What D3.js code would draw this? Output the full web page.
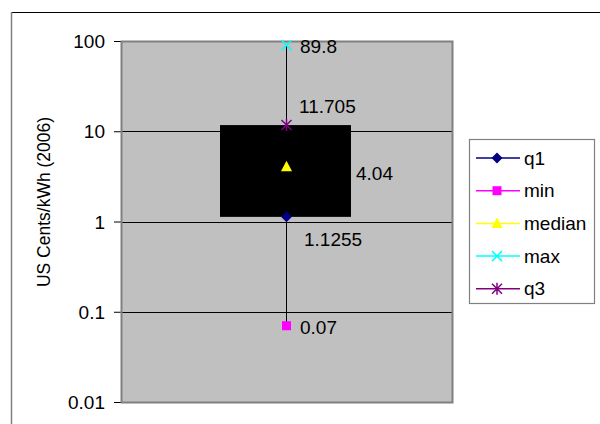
<!DOCTYPE html>
<html>
<head>
<meta charset="utf-8">
<script src="https://cdn.jsdelivr.net/npm/d3@7"></script>
<style>
  body { margin: 0; background: #fff; }
  svg text { font-family: Arial, "Liberation Sans", sans-serif; fill: #000; }
</style>
</head>
<body>
<div id="chart"></div>
<script>
// series shown in the chart (legend order)
const seriesNames = ['q1', 'min', 'median', 'max', 'q3'];
const seriesValues = [1.1255, 0.07, 4.04, 89.8, 11.705];
const seriesLabels = ['1.1255', '0.07', '4.04', '89.8', '11.705'];
const tickValues = [0.01, 0.1, 1, 10, 100];
const tickLabels = ['0.01', '0.1', '1', '10', '100'];
const yTitle = 'US Cents/kWh (2006)';

(function () {
    const W = 600, H = 424;
    const FS = 19;
    const plot = { x0: 121, x1: 452, y0: 41, y1: 402 };
    const colors = { q1: '#000080', min: '#ff00ff', median: '#ffff00', max: '#00ffff', q3: '#800080' };
    // label offsets from the marker, dx/dy in px
    const labelPos = { q1: [18, 22], min: [14, 1.5], median: [70, 7], max: [14, 1], q3: [13, -19] };

    const svg = d3.select('#chart').append('svg').attr('width', W).attr('height', H);

    // outer chart frame
    svg.append('line').attr('x1', 11).attr('x2', W).attr('y1', 12.5).attr('y2', 12.5)
        .attr('stroke', '#000').attr('stroke-width', 1);
    svg.append('line').attr('x1', 11.5).attr('x2', 11.5).attr('y1', 12).attr('y2', H)
        .attr('stroke', '#808080').attr('stroke-width', 1.5);

    const y = d3.scaleLog().domain([0.01, 100]).range([plot.y1, plot.y0]);
    const cx = 286;
    const byName = {};
    seriesNames.forEach(function (n, i) { byName[n] = seriesValues[i]; });

    svg.append('rect').attr('x', plot.x0).attr('y', plot.y0)
        .attr('width', plot.x1 - plot.x0).attr('height', plot.y1 - plot.y0)
        .attr('fill', '#c0c0c0');

    // gridlines
    svg.append('g').selectAll('line').data(tickValues.slice(1, -1)).enter().append('line')
        .attr('x1', plot.x0).attr('x2', plot.x1)
        .attr('y1', function (d) { return Math.round(y(d)) + 0.5; })
        .attr('y2', function (d) { return Math.round(y(d)) + 0.5; })
        .attr('stroke', '#000').attr('stroke-width', 1);

    // axis
    const axis = d3.axisLeft(y).tickValues(tickValues)
        .tickFormat(function (d, i) { return tickLabels[i]; })
        .tickSize(7).tickPadding(9);
    const gAxis = svg.append('g').attr('transform', 'translate(' + plot.x0 + ',0)').call(axis);
    gAxis.attr('font-size', FS).attr('font-family', null);
    gAxis.select('.domain').remove();
    gAxis.selectAll('.tick line').attr('stroke', '#000');
    gAxis.selectAll('.tick text').attr('dy', '0.35em');

    // plot border
    svg.append('rect').attr('x', plot.x0 + 0.5).attr('y', plot.y0 + 0.5)
        .attr('width', plot.x1 - plot.x0).attr('height', plot.y1 - plot.y0)
        .attr('fill', 'none').attr('stroke', '#808080').attr('stroke-width', 2);

    // box q1..q3
    svg.append('rect').attr('x', cx - 66).attr('width', 131)
        .attr('y', y(byName.q3)).attr('height', y(byName.q1) - y(byName.q3))
        .attr('fill', '#000');

    // whiskers
    svg.append('line').attr('x1', cx + 0.5).attr('x2', cx + 0.5)
        .attr('y1', y(byName.max)).attr('y2', y(byName.q3))
        .attr('stroke', '#000').attr('stroke-width', 1);
    svg.append('line').attr('x1', cx + 0.5).attr('x2', cx + 0.5)
        .attr('y1', y(byName.q1)).attr('y2', y(byName.min))
        .attr('stroke', '#000').attr('stroke-width', 1);

    function marker(g, name, x, yy) {
        const c = colors[name];
        if (name === 'q1') {
            g.append('path').attr('d', 'M' + x + ',' + (yy - 5.5) + 'L' + (x + 5.5) + ',' + yy + 'L' + x + ',' + (yy + 5.5) + 'L' + (x - 5.5) + ',' + yy + 'Z').attr('fill', c);
        } else if (name === 'min') {
            g.append('rect').attr('x', x - 4.5).attr('y', yy - 4.5).attr('width', 9).attr('height', 9).attr('fill', c);
        } else if (name === 'median') {
            g.append('path').attr('d', 'M' + x + ',' + (yy - 6) + 'L' + (x + 5.5) + ',' + (yy + 4.5) + 'L' + (x - 5.5) + ',' + (yy + 4.5) + 'Z').attr('fill', c);
        } else if (name === 'max') {
            g.append('path').attr('d', 'M' + (x - 5) + ',' + (yy - 5) + 'L' + (x + 5) + ',' + (yy + 5) + 'M' + (x + 5) + ',' + (yy - 5) + 'L' + (x - 5) + ',' + (yy + 5))
                .attr('stroke', c).attr('stroke-width', 1.5).attr('fill', 'none');
        } else {
            g.append('path').attr('d', 'M' + (x - 5) + ',' + (yy - 5) + 'L' + (x + 5) + ',' + (yy + 5) + 'M' + (x + 5) + ',' + (yy - 5) + 'L' + (x - 5) + ',' + (yy + 5) + 'M' + x + ',' + (yy - 6) + 'V' + (yy + 6))
                .attr('stroke', c).attr('stroke-width', 1.5).attr('fill', 'none');
        }
    }

    const gPts = svg.append('g');
    seriesNames.forEach(function (n, i) {
        const yy = y(seriesValues[i]);
        marker(gPts, n, cx + 0.5, yy);
        gPts.append('text').attr('x', cx + labelPos[n][0]).attr('y', yy + labelPos[n][1])
            .attr('dy', '0.35em').attr('font-size', FS).text(seriesLabels[i]);
    });

    // y title
    svg.append('text').attr('transform', 'translate(44,202) rotate(-90)')
        .attr('text-anchor', 'middle').attr('dy', '0.35em').attr('font-size', 17.5).text(yTitle);

    // legend
    const lg = svg.append('g');
    lg.append('rect').attr('x', 469.5).attr('y', 139.5).attr('width', 125).attr('height', 164)
        .attr('fill', '#fff').attr('stroke', '#808080').attr('stroke-width', 1.2);
    seriesNames.forEach(function (n, i) {
        const ly = 158 + i * 32.7;
        lg.append('line').attr('x1', 476).attr('x2', 520).attr('y1', ly).attr('y2', ly)
            .attr('stroke', colors[n]).attr('stroke-width', 1.5);
        marker(lg, n, 497, ly);
        lg.append('text').attr('x', 524).attr('y', ly).attr('dy', '0.35em')
            .attr('font-size', FS).text(n);
    });
})();
</script>
</body>
</html>
